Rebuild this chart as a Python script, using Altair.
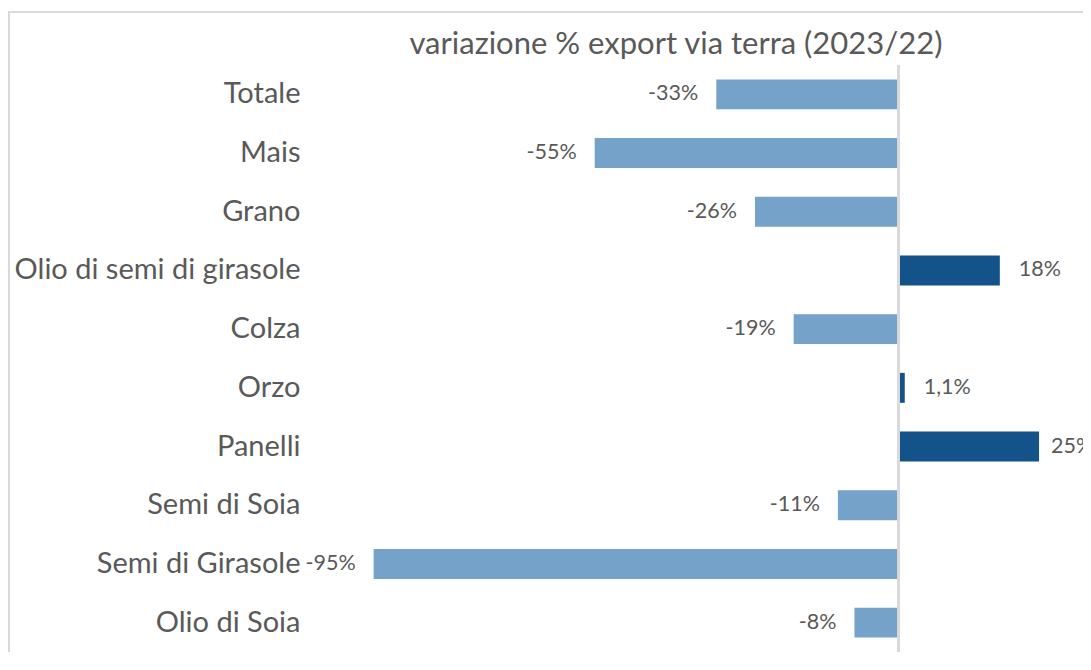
import altair as alt
import pandas as pd

categories = ["Totale", "Mais", "Grano", "Olio di semi di girasole", "Colza",
              "Orzo", "Panelli", "Semi di Soia", "Semi di Girasole", "Olio di Soia"]
values = [-33, -55, -26, 18.3, -19, 1.1, 25.4, -11, -95, -8]
labels = ["-33%", "-55%", "-26%", "18%", "-19%", "1,1%", "25%", "-11%", "-95%", "-8%"]
title_text = "variazione % export via terra (2023/22)"

df = pd.DataFrame({
    "cat": categories,
    "val": values,
    "lab": labels,
    "sign": ["pos" if v >= 0 else "neg" for v in values],
})

FONT = "Lato"
GREY = "#595959"
W = 737
H = 587

xs = alt.Scale(domain=[-100, 33.35], nice=False, zero=False)
ys = alt.Scale(paddingInner=0.49, paddingOuter=0.245)

base = alt.Chart(df)

bars = base.mark_bar().encode(
    y=alt.Y("cat:N", sort=categories, scale=ys,
            axis=alt.Axis(title=None, ticks=False, tickSize=0, domain=False,
                          labelPadding=46, labelFontSize=29, labelColor=GREY,
                          labelFont=FONT, labelLimit=400)),
    x=alt.X("val:Q", scale=xs, axis=None),
    color=alt.Color("sign:N", scale=alt.Scale(domain=["neg", "pos"],
                                               range=["#74A2C8", "#14528A"]),
                    legend=None),
)

zero = alt.Chart(df).mark_rule(color="#D9D9D9", strokeWidth=2).encode(
    x=alt.datum(0, scale=xs)
)

enc = dict(
    y=alt.Y("cat:N", sort=categories, scale=ys),
    x=alt.X("val:Q", scale=xs),
    text="lab:N",
)

neg_text = base.transform_filter("datum.val < 0").mark_text(
    align="right", baseline="middle", dx=-18, fontSize=21.5, font=FONT, color=GREY
).encode(**enc)

pos_text = base.transform_filter("datum.val >= 0 && datum.val < 25").mark_text(
    align="left", baseline="middle", dx=19, fontSize=21.5, font=FONT, color=GREY
).encode(**enc)

edge_text = base.transform_filter("datum.val >= 25").mark_text(
    align="left", baseline="middle", dx=12, fontSize=21.5, font=FONT, color=GREY,
    clip=True
).encode(**enc)

title = alt.Chart(pd.DataFrame({"t": [title_text]})).mark_text(
    align="center", baseline="middle", fontSize=31, font=FONT, color=GREY
).encode(text="t:N", x=alt.value(330), y=alt.value(-20))

border_top = alt.Chart(df).mark_rule(color="#D9D9D9", strokeWidth=2).encode(
    x=alt.value(-338), x2=alt.value(W), y=alt.value(-53)
)
border_left = alt.Chart(df).mark_rule(color="#D9D9D9", strokeWidth=2).encode(
    x=alt.value(-337), y=alt.value(-53), y2=alt.value(H)
)

chart = alt.layer(border_top, border_left, bars, zero, neg_text, pos_text,
                  edge_text, title).properties(
    width=W,
    height=H,
    autosize=alt.AutoSizeParams(type="none"),
    padding={"left": 338, "top": 57, "right": 0, "bottom": 0},
).configure_view(stroke=None)

chart.save("out.html", embed_options={"renderer": "svg", "actions": False})
